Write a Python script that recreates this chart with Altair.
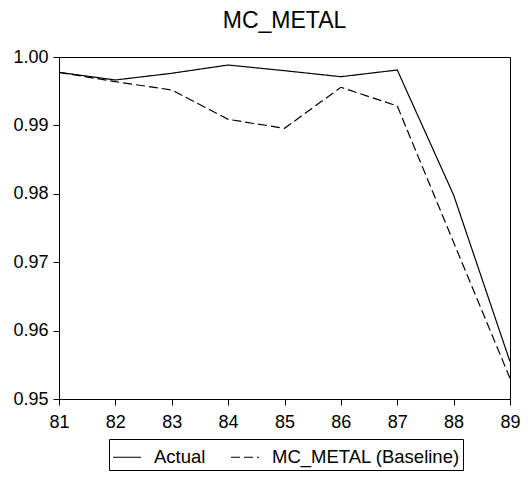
import altair as alt
import pandas as pd

years = [81, 82, 83, 84, 85, 86, 87, 88, 89]
actual = [0.99776, 0.99664, 0.99762, 0.99883, 0.99800, 0.99712, 0.99810, 0.97982, 0.95546]
baseline = [0.99776, 0.99639, 0.99518, 0.99089, 0.98957, 0.99557, 0.99284, 0.97290, 0.95302]
series_names = ["Actual", "MC_METAL (Baseline)"]

rows = []
for name, vals in zip(series_names, [actual, baseline]):
    for yr, v in zip(years, vals):
        rows.append({"year": yr, "value": v, "series": name})
df = pd.DataFrame(rows)

FONT = "Liberation Sans"

chart = alt.Chart(df).mark_line(color="black", strokeWidth=1.2).encode(
    x=alt.X("year:Q",
            scale=alt.Scale(domain=[81, 89], nice=False, zero=False),
            axis=alt.Axis(values=years, format="d", title=None, grid=False,
                          tickSize=6, labelPadding=8, labelFontSize=18,
                          labelFont=FONT, labelColor="black", tickColor="black",
                          domainColor="black", labelFlush=False)),
    y=alt.Y("value:Q",
            scale=alt.Scale(domain=[0.95, 1.0], nice=False, zero=False),
            axis=alt.Axis(values=[0.95, 0.96, 0.97, 0.98, 0.99, 1.0], format=".2f",
                          title=None, grid=False, tickSize=6, labelPadding=5,
                          labelFontSize=18, labelFont=FONT, labelColor="black",
                          tickColor="black", domainColor="black")),
    strokeDash=alt.StrokeDash(
        "series:N",
        scale=alt.Scale(domain=series_names, range=[[1, 0], [9, 4]]),
        legend=alt.Legend(title=None, orient="none", legendX=50, legendY=382,
                          direction="horizontal", symbolType="stroke",
                          symbolSize=784, symbolStrokeWidth=1.2,
                          symbolStrokeColor="black", labelFontSize=18.5,
                          labelFont=FONT, labelColor="black", labelOffset=12,
                          labelLimit=400, columnPadding=22, padding=3,
                          strokeColor="black", fillColor="white")),
).properties(
    width=451,
    height=342,
    title=alt.TitleParams("MC_METAL", fontSize=23, font=FONT, fontWeight="normal",
                          color="black", anchor="middle", offset=15),
    autosize=alt.AutoSizeParams(type="none"),
    padding={"left": 51, "top": 49, "right": 10, "bottom": 76},
).configure_view(stroke="black", strokeWidth=1)

chart.save("out.html", embed_options={"renderer": "svg", "actions": False})
